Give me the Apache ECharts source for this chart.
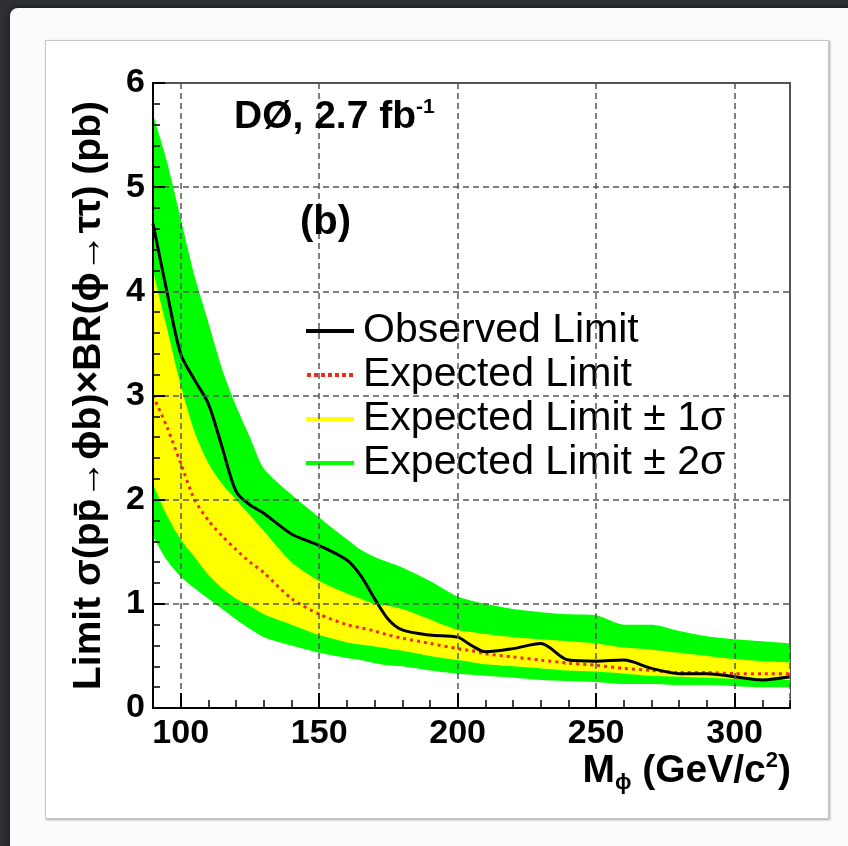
<!DOCTYPE html>
<html>
<head>
<meta charset="utf-8">
<title>D0 limit</title>
<script src="https://cdn.jsdelivr.net/npm/echarts@6/dist/echarts.min.js"></script>
<style>
    html, body { margin: 0; padding: 0; width: 848px; height: 846px; overflow: hidden; background: #2e3134; }
    #card { position: absolute; left: 10px; top: 8px; width: 860px; height: 860px; background: #fbfbfb;
            border-top-left-radius: 8px; box-shadow: 0 0 6px rgba(0,0,0,0.6); }
    #frame { position: absolute; left: 45px; top: 40px; width: 782px; height: 777px; background: #fff;
             border: 1px solid #c9c9c9; box-shadow: 1px 1px 2px rgba(0,0,0,0.35); }
    #main { position: absolute; left: 0; top: 0; width: 848px; height: 846px; }
</style>
</head>
<body>
<div id="card"></div>
<div id="frame"></div>
<div id="main"></div>
<script>
// Higgs mass points (GeV/c^2)
const mass = [90, 95, 100, 105, 110, 115, 120, 125, 130, 140, 150, 160, 165, 170, 175, 180,
              190, 200, 205, 210, 220, 230, 240, 250, 260, 270, 280, 290, 300, 310, 320];

// limits in pb
const observed = [4.65, 4.0, 3.4, 3.15, 2.92, 2.5, 2.08, 1.95, 1.87, 1.67, 1.56, 1.42, 1.27, 1.05, 0.85, 0.75,
                  0.70, 0.68, 0.60, 0.54, 0.57, 0.62, 0.46, 0.45, 0.46, 0.38, 0.33, 0.33, 0.30, 0.27, 0.30];
const expected = [3.0, 2.7, 2.35, 2.0, 1.8, 1.65, 1.52, 1.4, 1.3, 1.05, 0.9, 0.8, 0.77, 0.74, 0.70, 0.67,
                  0.62, 0.57, 0.55, 0.52, 0.49, 0.46, 0.43, 0.41, 0.38, 0.36, 0.34, 0.34, 0.33, 0.33, 0.33];
const plus2s = [5.7, 5.25, 4.7, 4.15, 3.7, 3.25, 2.9, 2.6, 2.3, 2.05, 1.83, 1.62, 1.52, 1.45, 1.40, 1.35,
                1.22, 1.07, 1.03, 1.0, 0.95, 0.92, 0.90, 0.89, 0.80, 0.80, 0.74, 0.69, 0.66, 0.64, 0.62];
const plus1s = [4.2, 3.65, 3.1, 2.65, 2.35, 2.15, 2.0, 1.85, 1.7, 1.4, 1.22, 1.1, 1.05, 1.0, 0.98, 0.95,
                0.85, 0.75, 0.73, 0.71, 0.68, 0.66, 0.64, 0.62, 0.58, 0.56, 0.53, 0.50, 0.47, 0.45, 0.44];
const minus1s = [2.15, 1.85, 1.62, 1.45, 1.28, 1.15, 1.05, 0.98, 0.9, 0.8, 0.7, 0.63, 0.61, 0.59, 0.57, 0.55,
                 0.50, 0.46, 0.44, 0.42, 0.40, 0.38, 0.36, 0.35, 0.33, 0.31, 0.30, 0.29, 0.28, 0.27, 0.27];
const minus2s = [1.65, 1.42, 1.26, 1.15, 1.05, 0.95, 0.85, 0.76, 0.68, 0.6, 0.53, 0.48, 0.46, 0.43, 0.41, 0.40,
                 0.36, 0.33, 0.32, 0.31, 0.29, 0.27, 0.26, 0.25, 0.23, 0.23, 0.22, 0.22, 0.21, 0.20, 0.20];

const legendNames = ["Observed Limit", "Expected Limit", "Expected Limit \u00b1 1\u03c3", "Expected Limit \u00b1 2\u03c3"];

const FONT = "'Liberation Sans', Arial, Helvetica, sans-serif";
const GREEN = "#00ff00";
const YELLOW = "#ffff00";
const RED = "#f22a1a";

// legend samples: plain bar and a dotted bar
const SOLID_ICON = "path://M0,0h50v4h-50z";
const DOT_ICON = "path://M0,0h4v4h-4z M7,0h4v4h-4z M14,0h4v4h-4z M21,0h4v4h-4z M28,0h4v4h-4z M35,0h4v4h-4z M42,0h4v4h-4z";

function pts(vals) {
    return mass.map((m, i) => [m, vals[i]]);
}

// filled area down to zero, later ones painted over earlier ones
function band(name, vals, color) {
    return {
        name: name,
        type: "line",
        data: pts(vals),
        symbol: "none",
        smooth: 0.25,
        color: color,
        lineStyle: { width: 0, color: color },
        areaStyle: { color: color, opacity: 1 },
        silent: true
    };
}

const chart = echarts.init(document.getElementById("main"));

const option = {
    animation: false,
    title: [
        {
            text: "{a|D\u00d8, 2.7 fb}{s|-1}",
            left: 234, top: 97, padding: 0,
            textStyle: { rich: {
                a: { fontFamily: FONT, fontWeight: "bold", fontSize: 39, color: "#000" },
                s: { fontFamily: FONT, fontWeight: "bold", fontSize: 21, color: "#000", padding: [0, 0, 20, 0] }
            } }
        },
        {
            text: "(b)",
            left: 300, top: 203, padding: 0,
            textStyle: { fontFamily: FONT, fontWeight: "bold", fontSize: 40, color: "#000" }
        },
        {
            text: "{a|M}{b|\u03d5}{a| (GeV/c}{s|2}{a|)}",
            right: 57, top: 748, padding: 0,
            textStyle: { rich: {
                a: { fontFamily: FONT, fontWeight: "bold", fontSize: 39, color: "#000" },
                b: { fontFamily: FONT, fontWeight: "bold", fontSize: 22, color: "#000", padding: [24, 0, 0, 0] },
                s: { fontFamily: FONT, fontWeight: "bold", fontSize: 22, color: "#000", padding: [0, 0, 20, 0] }
            } }
        }
    ],
    legend: {
        data: [
            { name: legendNames[0], icon: SOLID_ICON },
            { name: legendNames[1], icon: DOT_ICON },
            { name: legendNames[2], icon: SOLID_ICON },
            { name: legendNames[3], icon: SOLID_ICON }
        ],
        orient: "vertical",
        left: 306, top: 309,
        padding: 0,
        itemGap: 0,
        itemWidth: 48,
        itemHeight: 4,
        itemStyle: { borderWidth: 0 },
        selectedMode: false,
        textStyle: { fontFamily: FONT, fontSize: 41, color: "#000", lineHeight: 44, padding: [0, 0, 0, 4] }
    },
    grid: { left: 153, right: 58, top: 83, bottom: 138, show: true, borderColor: "#555", borderWidth: 2, backgroundColor: "transparent" },
    xAxis: [
        {
            type: "value",
            min: 90, max: 320,
            z: 5,
            axisLine: { show: true, onZero: false, lineStyle: { color: "#000", width: 2 } },
            axisTick: { show: true, inside: true, length: 15, lineStyle: { color: "#000", width: 2 } },
            axisLabel: { showMinLabel: false, showMaxLabel: false, margin: 9,
                fontFamily: FONT, fontWeight: "bold", fontSize: 34, color: "#000" },
            splitLine: { show: true, lineStyle: { color: "#555", type: [6, 4], width: 1.5 } }
        },
        {
            // minor ticks every 10 GeV
            type: "value",
            min: 90, max: 320, interval: 10,
            position: "bottom",
            z: 5,
            axisLine: { show: false },
            axisTick: { show: true, inside: true, length: 8, lineStyle: { color: "#000", width: 1.5 } },
            axisLabel: { show: false },
            splitLine: { show: false }
        }
    ],
    yAxis: {
        type: "value",
        min: 0, max: 6, interval: 1,
        z: 5,
        name: "Limit \u03c3(pp\u0304\u2192\u03d5b)\u00d7BR(\u03d5\u2192\u03c4\u03c4) (pb)",
        nameLocation: "middle",
        nameGap: 44,
        nameTextStyle: { fontFamily: FONT, fontWeight: "bold", fontSize: 39, color: "#000" },
        axisLine: { show: true, lineStyle: { color: "#000", width: 2 } },
        axisTick: { show: true, inside: true, length: 12, lineStyle: { color: "#000", width: 2 } },
        minorTick: { show: true, splitNumber: 5, length: 7, lineStyle: { color: "#000", width: 1.5 } },
        axisLabel: { margin: 8, fontFamily: FONT, fontWeight: "bold", fontSize: 34, color: "#000" },
        splitLine: { show: true, lineStyle: { color: "#555", type: [6, 4], width: 1.5 } }
    },
    series: [
        band(legendNames[3], plus2s, GREEN),
        band(legendNames[2], plus1s, YELLOW),
        band("minus1s", minus1s, GREEN),
        band("minus2s", minus2s, "#ffffff"),
        {
            name: legendNames[1],
            type: "line",
            data: pts(expected),
            symbol: "none",
            smooth: 0.25,
            color: RED,
            lineStyle: { color: RED, width: 3, type: [3, 4] }
        },
        {
            name: legendNames[0],
            type: "line",
            data: pts(observed),
            symbol: "none",
            smooth: 0.3,
            color: "#000",
            lineStyle: { color: "#000", width: 3 }
        }
    ]
};

chart.setOption(option);
</script>
</body>
</html>
